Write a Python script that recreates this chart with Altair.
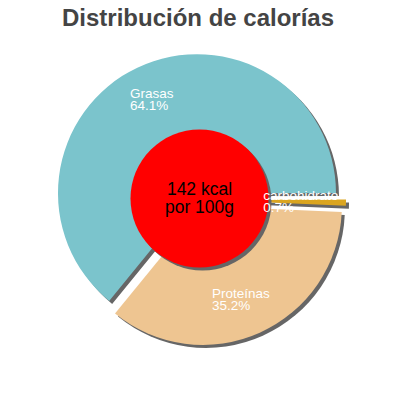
import math
import altair as alt
import pandas as pd

# ---- data ----
categories = ["Grasas", "carbohidratos", "Proteínas"]
percentages = [64.1, 0.7, 35.2]
slice_colors = ["#7bc4cc", "#daa520", "#eec591"]
energy_kcal = 142
title_text = "Distribución de calorías"

# ---- layout constants (plot-area pixels) ----
CX, CY = 192, 191.5
R = 139
EXPLODE = 7
SHADOW = 3
LABEL_R = 103
LABEL_LH = 12
CENTER_LH = 18
START = math.radians(219.2)
TWO_PI = 2 * math.pi

df = pd.DataFrame({
    "name": categories,
    "pct": percentages,
    "color": slice_colors,
    "order": list(range(len(categories))),
})

base = alt.Chart(df).transform_window(
    cum="sum(pct)", sort=[alt.SortField("order")], frame=[None, 0]
).transform_calculate(
    a0=f"{START} + (datum.cum - datum.pct) / 100 * {TWO_PI}",
    a1=f"{START} + datum.cum / 100 * {TWO_PI}",
).transform_calculate(
    mid="(datum.a0 + datum.a1) / 2",
).transform_calculate(
    px=f"{CX} + {EXPLODE} * sin(datum.mid)",
    py=f"{CY} - {EXPLODE} * cos(datum.mid)",
).transform_calculate(
    sx=f"datum.px + {SHADOW}",
    sy=f"datum.py + {SHADOW}",
    lx=f"datum.px + {LABEL_R} * sin(datum.mid) - length(datum.name) * 3.45 - 2",
    ly=f"datum.py - {LABEL_R} * cos(datum.mid) - {LABEL_LH / 2}",
    label="datum.name + '\\n' + format(datum.pct, '.1f') + '%'",
)

theta = alt.Theta("a0:Q", scale=None, stack=None)
theta2 = alt.Theta2("a1:Q")

shadow = base.mark_arc(radius=R, color="#666666").encode(
    theta=theta, theta2=theta2,
    x=alt.X("sx:Q", scale=None), y=alt.Y("sy:Q", scale=None),
)

slices = base.mark_arc(radius=R).encode(
    theta=theta, theta2=theta2,
    x=alt.X("px:Q", scale=None), y=alt.Y("py:Q", scale=None),
    color=alt.Color("color:N", scale=None),
)

labels = base.mark_text(
    align="left", baseline="middle", color="white", fontSize=13.5,
    font="Liberation Sans", lineBreak="\n", lineHeight=LABEL_LH, limit=80,
    ellipsis="\u200b",
).encode(
    x=alt.X("lx:Q", scale=None), y=alt.Y("ly:Q", scale=None),
    text="label:N",
)

center_df = pd.DataFrame({"txt": [f"{energy_kcal} kcal\npor 100g"], "a0": [0.0], "a1": [TWO_PI]})
center = alt.Chart(center_df)
circle_shadow = center.mark_arc(radius=69, color="#666666").encode(
    theta=alt.Theta("a0:Q", scale=None, stack=None), theta2="a1:Q",
    x=alt.value(CX - 0.5 + SHADOW), y=alt.value(CY - 1 + SHADOW),
)
circle = center.mark_arc(radius=69, color="#ff0000").encode(
    theta=alt.Theta("a0:Q", scale=None, stack=None), theta2="a1:Q",
    x=alt.value(CX - 0.5), y=alt.value(CY - 1),
)
center_text = center.mark_text(
    align="center", baseline="middle", color="black", fontSize=17.5,
    font="Liberation Sans", lineBreak="\n", lineHeight=CENTER_LH,
).encode(
    x=alt.value(CX - 0.5), y=alt.value(CY - 1 - CENTER_LH / 2), text="txt:N",
)

title_df = pd.DataFrame({"t": [title_text]})
title = alt.Chart(title_df).mark_text(
    align="center", baseline="alphabetic", color="#444444", fontSize=24,
    fontWeight="bold", font="Liberation Sans",
).encode(x=alt.value(190), y=alt.value(17.5), text="t:N")

chart = alt.layer(
    shadow, slices, circle_shadow, circle, labels, center_text, title
).properties(
    width=384, height=384, padding=0, autosize="none", background="white"
).configure_view(stroke=None)

chart.save("out.html", embed_options={"renderer": "svg", "actions": False})
